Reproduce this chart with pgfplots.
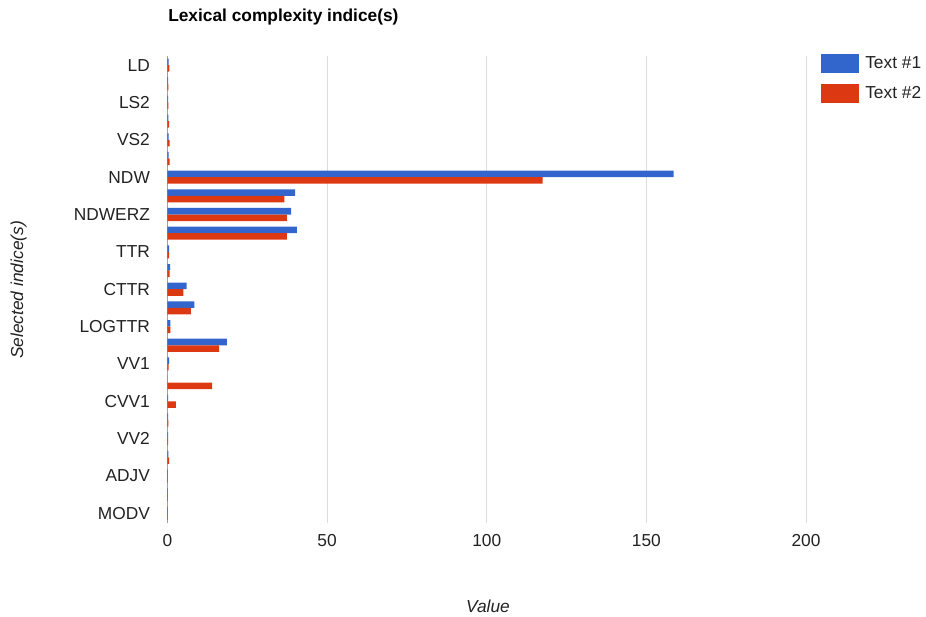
\documentclass[border=0pt]{standalone}
\usepackage{pgfplots}
\pgfplotsset{compat=1.18}
\usepackage{pgfplotstable}
\usepackage{fontspec}
\setmainfont{Liberation Sans}
\definecolor{gblue}{HTML}{3366CC}
\definecolor{gred}{HTML}{DC3912}
\definecolor{gtext}{HTML}{222222}
\definecolor{ggrid}{HTML}{DDDDDD}
\pgfplotstableread{
idx name t1 t2
0 LD 0.4 0.6
1 LS1 0.2 0.3
2 LS2 0.2 0.3
3 VS1 0.3 0.5
4 VS2 0.4 0.7
5 CVS1 0.4 0.7
6 NDW 158.5 117.5
7 NDWZ 40.0 36.6
8 NDWERZ 38.7 37.4
9 NDWESZ 40.5 37.4
10 TTR 0.5 0.5
11 MSTTR 0.8 0.7
12 CTTR 6.0 5.0
13 RTTR 8.4 7.3
14 LOGTTR 0.9 0.9
15 UBER 18.6 16.2
16 VV1 0.5 0.4
17 SVV1 0.0 14.0
18 CVV1 0.2 2.6
19 LV 0.2 0.3
20 VV2 0.2 0.2
21 NV 0.3 0.5
22 ADJV 0.1 0.1
23 ADVV 0.1 0.1
24 MODV 0.1 0.1
}\data
\begin{document}
\begin{tikzpicture}
\path[use as bounding box] (0pt,0pt) rectangle (694.5pt,462.75pt);
\begin{axis}[
  at={(125.6pt,70.7pt)}, anchor=south west,
  scale only axis, width=478.9pt, height=350.25pt,
  xbar=0pt, bar width=4.9pt,
  xmin=0, xmax=200, ymin=-0.5, ymax=24.5,
  y dir=reverse,
  xtick={0,50,100,150,200},
  ytick={0,2,...,24},
  yticklabels={LD,LS2,VS2,NDW,NDWERZ,TTR,CTTR,LOGTTR,VV1,CVV1,VV2,ADJV,MODV},
  major tick length=0pt,
  axis line style={draw=none},
  xmajorgrids, grid style={ggrid, line width=0.75pt},
  extra x ticks={0}, extra x tick labels={},
  extra x tick style={grid style={gray!75, line width=0.75pt}},
  tick label style={font=\fontsize{13pt}{15pt}\selectfont, text=gtext},
  /pgf/number format/assume math mode=true,
  xticklabel style={anchor=center, inner sep=0pt, yshift=-13.7pt},
  yticklabel style={anchor=east, inner sep=0pt, xshift=-13pt},
  legend style={at={(1.0235,1.005)}, anchor=north west, draw=none, fill=none,
    font=\fontsize{13pt}{15pt}\selectfont, text=gtext, inner sep=0pt,
    row sep=8.5pt, nodes={inner sep=0pt},
    /tikz/every odd column/.append style={column sep=4.5pt}},
  legend cell align=left,
  legend image code/.code={\fill[#1,draw=none] (0pt,-7.1pt) rectangle (28.5pt,7.1pt);},
]
\addplot[fill=gblue, draw=none, bar shift=2.45pt] table[x=t1, y=idx] {\data};
\addplot[fill=gred, draw=none, bar shift=-2.45pt] table[x=t2, y=idx] {\data};
\legend{Text \#1, Text \#2}
\end{axis}
\node[anchor=west, inner sep=0pt, font=\fontsize{13pt}{15pt}\selectfont\bfseries] at (126pt,450pt) {Lexical complexity indice(s)};
\node[rotate=90, inner sep=0pt, font=\fontsize{13pt}{15pt}\selectfont\itshape, text=gtext] at (14pt,245.25pt) {Selected indice(s)};
\node[inner sep=0pt, font=\fontsize{13pt}{15pt}\selectfont\itshape, text=gtext] at (366pt,8pt) {Value};
\end{tikzpicture}
\end{document}
